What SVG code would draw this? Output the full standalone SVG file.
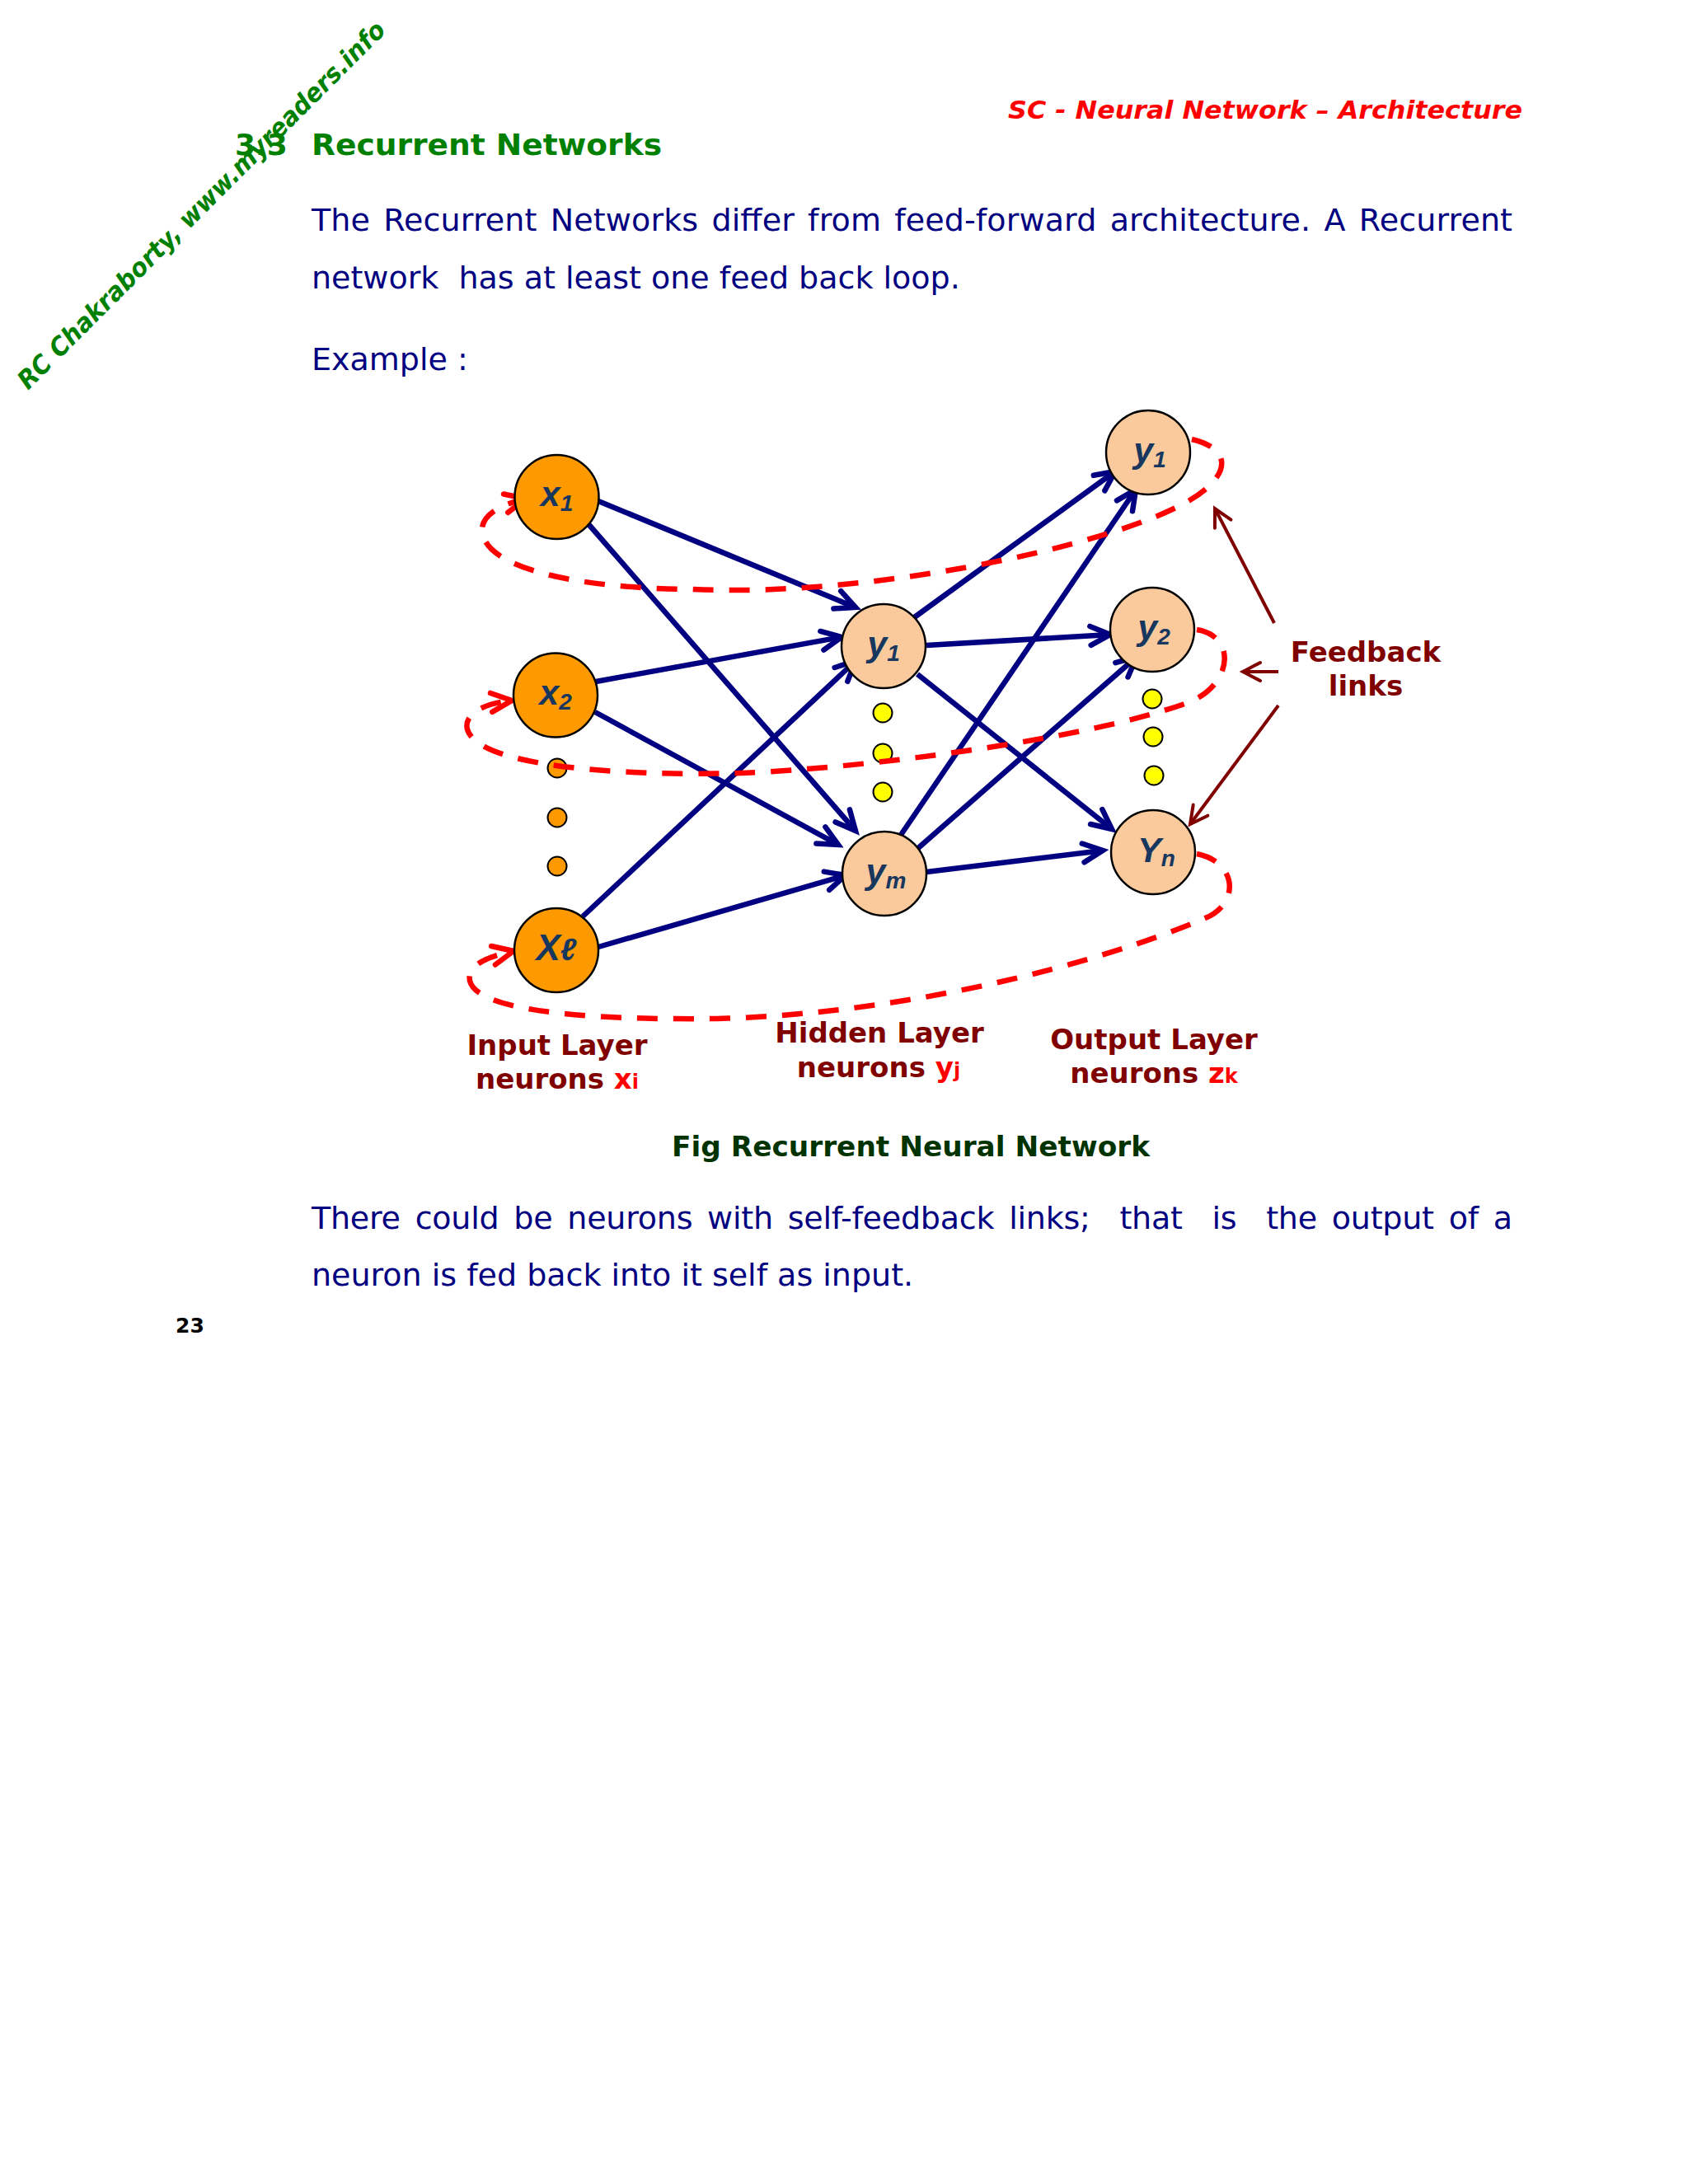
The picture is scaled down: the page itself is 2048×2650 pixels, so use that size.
<svg xmlns="http://www.w3.org/2000/svg" width="2048" height="2650" viewBox="0 0 2048 2650">
<style>
.body{font-family:"DejaVu Sans","Liberation Sans",sans-serif;font-size:38px;fill:#000080}
.lay{font-family:"DejaVu Sans","Liberation Sans",sans-serif;font-size:34px;font-weight:bold;fill:#800000;text-anchor:middle}
.red{fill:#ff0000}
.sm{font-size:24px}
.node{stroke:#000;stroke-width:2.5}
.inp{fill:#ff9900}
.hid{fill:#fac99c}
.dot-o{fill:#ff9900;stroke:#000;stroke-width:2}
.dot-y{fill:#ffff00;stroke:#000;stroke-width:2}
.lbl{font-family:"Liberation Sans",Arial,sans-serif;font-weight:bold;font-style:italic;font-size:43px;fill:#17375e;text-anchor:middle}
.sub{font-size:28px}
.edge{stroke:#000080;stroke-width:6.5;fill:none;marker-end:url(#ab)}
.loop{stroke:#ff0000;stroke-width:6.5;fill:none;stroke-dasharray:25 19;marker-end:url(#ar)}
.fb{stroke:#800000;stroke-width:4;fill:none;marker-end:url(#am)}
.hdr{font-family:"DejaVu Sans","Liberation Sans",sans-serif;font-weight:bold}
</style>
<defs>
<marker id="ab" markerUnits="userSpaceOnUse" viewBox="-40 -20 50 40" markerWidth="50" markerHeight="40" refX="0" refY="0" orient="auto" overflow="visible">
<path d="M-24,-11.5 L0,0 L-24,11.5" fill="none" stroke="#000080" stroke-width="6.5" stroke-linecap="round"/>
</marker>
<marker id="ar" markerUnits="userSpaceOnUse" viewBox="-40 -20 50 40" markerWidth="50" markerHeight="40" refX="0" refY="0" orient="auto" overflow="visible">
<path d="M-25,-11.5 L0,0 L-25,11.5" fill="none" stroke="#ff0000" stroke-width="6.5" stroke-linecap="round"/>
</marker>
<marker id="am" markerUnits="userSpaceOnUse" viewBox="-40 -20 50 40" markerWidth="50" markerHeight="40" refX="0" refY="0" orient="auto" overflow="visible">
<path d="M-21,-11 L0,0 L-21,11" fill="none" stroke="#800000" stroke-width="4" stroke-linecap="round"/>
</marker>
</defs>
<rect width="2048" height="2650" fill="#ffffff"/>

<!-- page text -->
<text class="hdr" x="1223" y="144" textLength="624" lengthAdjust="spacingAndGlyphs" style="font-style:italic;font-size:31px;fill:#ff0000">SC - Neural Network – Architecture</text>
<text class="hdr" x="285" y="188" style="font-size:36px;fill:#008000">3.3</text>
<text class="hdr" x="378" y="188" textLength="425" lengthAdjust="spacingAndGlyphs" style="font-size:36px;fill:#008000">Recurrent Networks</text>
<text class="hdr" transform="translate(34,474) rotate(-45)" textLength="616" lengthAdjust="spacingAndGlyphs" style="font-style:italic;font-size:31px;fill:#008000">RC Chakraborty, www.myreaders.info</text>

<text class="body" x="378" y="280" word-spacing="4" textLength="1457" lengthAdjust="spacing">The Recurrent Networks differ from feed-forward architecture. A Recurrent</text>
<text class="body" x="378" y="350" xml:space="preserve">network  has at least one feed back loop.</text>
<text class="body" x="378" y="449">Example :</text>

<!-- ellipsis dots -->
<g id="ellipsis-dots">
<circle class="dot-o" cx="676" cy="932" r="11.5"/>
<circle class="dot-o" cx="676" cy="992" r="11.5"/>
<circle class="dot-o" cx="676" cy="1051" r="11.5"/>
<circle class="dot-y" cx="1071" cy="865" r="11.5"/>
<circle class="dot-y" cx="1071" cy="914" r="11.5"/>
<circle class="dot-y" cx="1071" cy="961" r="11.5"/>
<circle class="dot-y" cx="1398" cy="848" r="11.5"/>
<circle class="dot-y" cx="1399" cy="894" r="11.5"/>
<circle class="dot-y" cx="1400" cy="941" r="11.5"/>
</g>

<g id="connectors">
<line class="edge" x1="726" y1="608" x2="1038" y2="737"/>
<line class="edge" x1="714" y1="636" x2="1038" y2="1008"/>
<line class="edge" x1="723" y1="827" x2="1021" y2="773"/>
<line class="edge" x1="722" y1="864" x2="1017" y2="1025"/>
<line class="edge" x1="707" y1="1112" x2="1038" y2="802"/>
<line class="edge" x1="726" y1="1149" x2="1026" y2="1062"/>
<line class="edge" x1="1108" y1="750" x2="1353" y2="572"/>
<line class="edge" x1="1124" y1="783" x2="1347" y2="770"/>
<line class="edge" x1="1113" y1="818" x2="1349" y2="1006"/>
<line class="edge" x1="1093" y1="1013" x2="1378" y2="594"/>
<line class="edge" x1="1114" y1="1029" x2="1379" y2="797"/>
<line class="edge" x1="1124" y1="1058" x2="1338" y2="1032"/>
<path class="loop" d="M1446,533 C1500,546 1490,581 1440,609 C1340,665 1050,725 840,715 C700,714 590,690 585,645 C583,625 608,612 638,605"/>
<path class="loop" d="M1452,764 C1502,772 1495,833 1440,853 C1319,897 1050,932 900,938 C750,942 580,930 567,885 C562,865 590,853 621,850"/>
<path class="loop" d="M1452,1036 C1502,1046 1505,1098 1460,1115 C1330,1170 1100,1230 870,1236 C700,1238 578,1225 570,1190 C566,1170 595,1160 623,1154"/>
<line class="fb" x1="1546" y1="756" x2="1474" y2="617"/>
<line class="fb" x1="1551" y1="815" x2="1508" y2="815"/>
<line class="fb" x1="1551" y1="856" x2="1444" y2="1000"/>
</g>

<g id="x1"><circle class="node inp" cx="675.5" cy="603" r="51"/><text class="lbl" x="675.5" y="614">x<tspan class="sub" dy="6">1</tspan></text></g>
<g id="x2"><circle class="node inp" cx="674" cy="843.5" r="51"/><text class="lbl" x="674" y="855">x<tspan class="sub" dy="6">2</tspan></text></g>
<g id="xl"><circle class="node inp" cx="675" cy="1153" r="51"/><text class="lbl" x="675" y="1165" style="font-size:44px">X<tspan style="font-size:38px">ℓ</tspan></text></g>
<g id="h1"><circle class="node hid" cx="1072" cy="784" r="51"/><text class="lbl" x="1072" y="796">y<tspan class="sub" dy="6">1</tspan></text></g>
<g id="hm"><circle class="node hid" cx="1073" cy="1060" r="51"/><text class="lbl" x="1075" y="1072">y<tspan class="sub" dy="6">m</tspan></text></g>
<g id="o1"><circle class="node hid" cx="1393" cy="549" r="51"/><text class="lbl" x="1395" y="561">y<tspan class="sub" dy="6">1</tspan></text></g>
<g id="o2"><circle class="node hid" cx="1398" cy="764" r="51"/><text class="lbl" x="1400" y="776">y<tspan class="sub" dy="6">2</tspan></text></g>
<g id="on"><circle class="node hid" cx="1399" cy="1034" r="51"/><text class="lbl" x="1403" y="1046">Y<tspan class="sub" dy="5">n</tspan></text></g>

<g id="labels">
<text class="lay" x="676" y="1280">Input Layer</text>
<text class="lay" x="676" y="1321">neurons <tspan class="red">x</tspan><tspan class="red sm">i</tspan></text>
<text class="lay" x="1067" y="1265">Hidden Layer</text>
<text class="lay" x="1066" y="1307">neurons <tspan class="red">y</tspan><tspan class="red sm">j</tspan></text>
<text class="lay" x="1400" y="1273">Output Layer</text>
<text class="lay" x="1400" y="1314">neurons <tspan class="red">z</tspan><tspan class="red sm">k</tspan></text>
<text class="lay" x="1657" y="803">Feedback</text>
<text class="lay" x="1657" y="844">links</text>
</g>

<text class="hdr" x="815" y="1403" textLength="580" lengthAdjust="spacingAndGlyphs" style="font-size:33px;fill:#003300">Fig Recurrent Neural Network</text>

<text class="body" x="378" y="1491" xml:space="preserve" word-spacing="6" textLength="1457" lengthAdjust="spacing">There could be neurons with self-feedback links;  that  is  the output of a</text>
<text class="body" x="378" y="1560">neuron is fed back into it self as input.</text>
<text class="hdr" x="213" y="1617" style="font-size:25px;fill:#000000">23</text>
</svg>
